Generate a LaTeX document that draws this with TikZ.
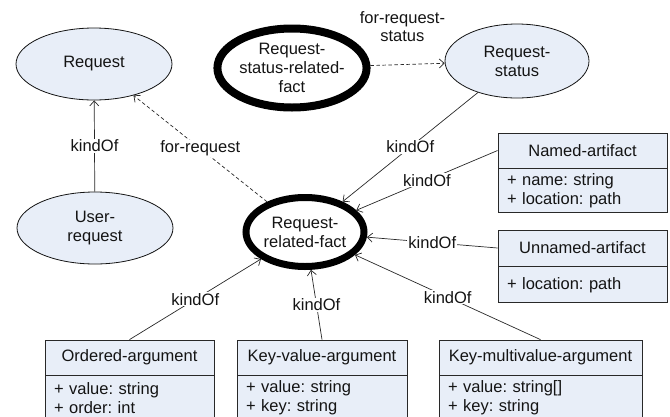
\documentclass[tikz,border=0pt]{standalone}
\usepackage{fontspec}
\setmainfont{Liberation Sans}
\usetikzlibrary{arrows.meta,shapes.geometric}
\definecolor{classfill}{RGB}{232,238,248}
\definecolor{ink}{RGB}{20,20,20}
\definecolor{edge}{RGB}{40,40,40}
\frenchspacing
\begin{document}
\begin{tikzpicture}[x=1pt,y=-1pt,
  font=\fontsize{16.5}{19}\selectfont, text=ink,
  concept/.style={ellipse, draw=ink, line width=0.8pt, fill=classfill,
    inner sep=0pt, align=center},
  fact/.style={ellipse, draw=black, line width=#1, fill=white,
    inner sep=0pt, align=center},
  classhead/.style={rectangle, draw=edge, line width=0.8pt, fill=classfill,
    minimum width=#1, minimum height=35pt, inner sep=0pt},
  classattr/.style={rectangle, draw=edge, line width=0.8pt, fill=classfill,
    anchor=north, text width=#1, inner xsep=9pt, inner ysep=0pt, align=left},
  kind/.style={draw=edge, line width=0.7pt, -{Straight Barb[length=5pt,width=9pt]}},
  rel/.style={kind, dash pattern=on 3.5pt off 2.5pt},
  lbl/.style={fill=white, inner sep=1pt},
]
\useasboundingbox (0,0) rectangle (670,416);
\clip (0,0) rectangle (670,416);

% concepts
\node[concept, minimum width=156pt, minimum height=72pt] (req) at (94,64) {Request};
\node[concept, minimum width=156pt, minimum height=72pt] (ureq) at (95,228) {User-\\request};
\node[concept, minimum width=144pt, minimum height=74pt] (rs) at (517,61) {Request-\\status};

% fact ellipses
\node[fact=8pt, minimum width=148pt, minimum height=79pt] (rsrf) at (292,68)
  {Request-\\status-related-\\fact};
\node[fact=7pt, minimum width=118pt, minimum height=69pt] (rrf) at (305,232)
  {Request-\\related-fact};

% classes on the right
\node[classhead=169pt] (named) at (582.5,150.5) {Named-artifact};
\node[classattr=151pt, minimum height=44pt] (namedattr) at (named.south)
  {+ name: string\\+ location: path};
\node[classhead=169pt, minimum height=36pt] (unnamed) at (582.5,248) {Unnamed-artifact};
\node[classattr=151pt, minimum height=36pt] (unnamedattr) at (unnamed.south)
  {+ location: path};

% argument classes at the bottom
\node[classhead=169pt] (ordered) at (129.5,357.5) {Ordered-argument};
\node[classattr=151pt, minimum height=44pt] (orderedattr) at (ordered.south)
  {+ value: string\\+ order: int};
\node[classhead=170pt] (keyval) at (322,357.5) {Key-value-argument};
\node[classattr=152pt, minimum height=44pt] (keyvalattr) at (keyval.south)
  {+ value: string\\+ key: string};
\node[classhead=203pt] (keymulti) at (540.5,357.5) {Key-multivalue-argument};
\node[classattr=185pt, minimum height=44pt] (keymultiattr) at (keymulti.south)
  {+ value: string[]\\+ key: string};

% relations
\draw[kind] (ureq) -- node[lbl] {kindOf} (req);
\draw[rel] (rrf) -- node[lbl] {for-request} (req);
\draw[rel] (rsrf) -- node[pos=0.43, above=23pt, inner sep=0pt, align=center,
  font=\fontsize{16.5}{18}\selectfont] {for-request-\\status} (rs);
\draw[kind] (rs) -- node[lbl] {kindOf} (rrf);
\draw[kind] (named.west) -- node[lbl] {kindOf} (rrf);
\draw[kind] (unnamed.west) -- node[lbl] {kindOf} (rrf);
\draw[kind] (keymulti.north) -- node[lbl] {kindOf} (rrf);
\draw[kind] (keyval.north) -- node[lbl] {kindOf} (rrf);
\draw[kind] (ordered.north) -- node[lbl] {kindOf} (rrf);
\end{tikzpicture}
\end{document}
